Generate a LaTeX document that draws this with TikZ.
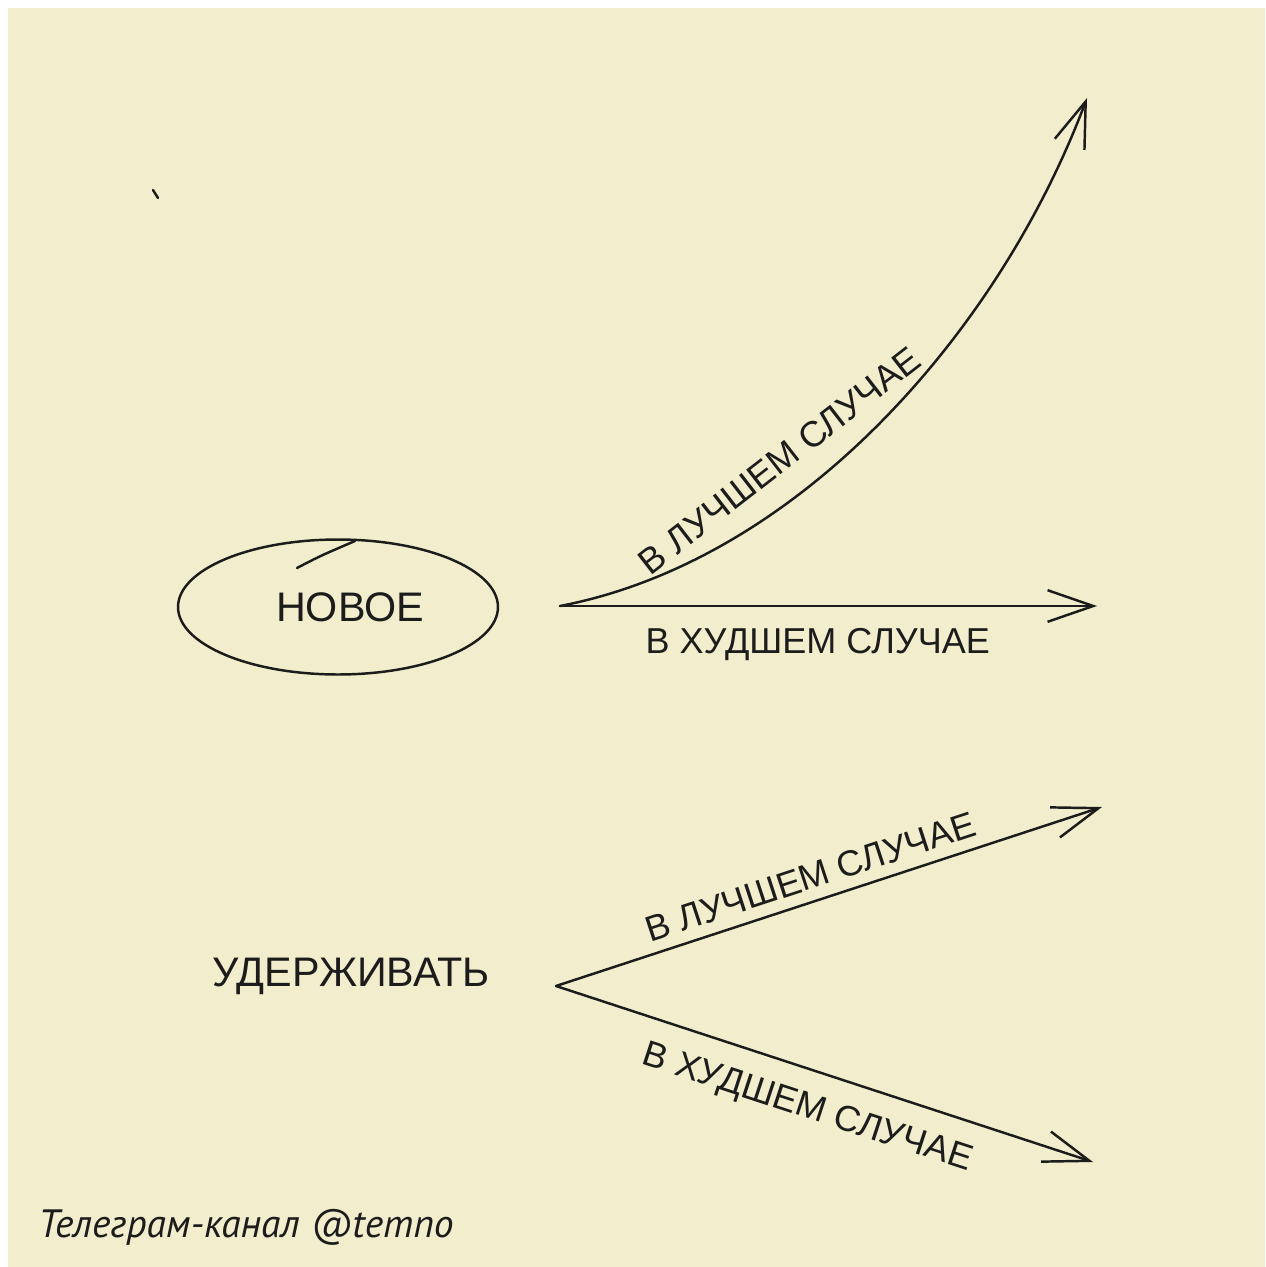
\documentclass[tikz,border=0pt]{standalone}
\usepackage{fontspec}
\usepackage{tikz}
\usepackage{xcolor}
\usetikzlibrary{arrows.meta,positioning,shapes.geometric}
\newfontfamily\handfont{Liberation Sans}
\newfontfamily\footfont{PT Sans}
\definecolor{paper}{HTML}{F2EDCC}
\definecolor{ink}{HTML}{1C1C1C}

\begin{document}
\begin{tikzpicture}[x=0.02cm,y=-0.02cm,
    ink/.style={draw=ink,line width=1.4pt,line cap=round,line join=round},
    barbline/.style={ink,-{Straight Barb[length=26pt,width=18pt,line width=1.4pt]}},
    hand/.style={text=ink,inner sep=2pt,font=\handfont\fontsize{20.5}{24}\selectfont},
    word/.style={text=ink,inner sep=2pt,font=\handfont\fontsize{23.5}{27}\selectfont}]
    \useasboundingbox (0,0) rectangle (1265,1267);
    \fill[white] (0,0) rectangle (1265,1267);
    \fill[paper] (8,8) rectangle (1265,1267);
    \draw[ink] (153,190) -- (158,198);
    \node[ink,ellipse,minimum width=6.4cm,minimum height=2.7cm] (oval) at (338,607) {};
    \draw[ink] (297,568) .. controls (320,556) .. (355,541);
    \node[word] (novoe) at (350,607) {НОВОЕ};
    \node[word] (keep) at (351,976) {УДЕРЖИВАТЬ};
    \coordinate (forkA) at (560,606);
    \coordinate (forkB) at (556,986);
    \coordinate (bestA) at (1087,98);
    \coordinate (worstA) at (1097,606);
    \coordinate (bestB) at (1102,807);
    \coordinate (worstB) at (1093,1162);
    \draw[barbline] (forkA) .. controls (800,560) and (1000,330) .. (bestA)
        node[hand,pos=0.365,sloped,above=12pt] (bestAtxt) {В ЛУЧШЕМ СЛУЧАЕ};
    \draw[barbline] (forkA) -- (worstA)
        node[hand,pos=0.48,below=10pt] (worstAtxt) {В ХУДШЕМ СЛУЧАЕ};
    \draw[barbline] (forkB) -- (bestB)
        node[hand,pos=0.48,sloped,above=4pt] (bestBtxt) {В ЛУЧШЕМ СЛУЧАЕ};
    \draw[barbline] (forkB) -- (worstB)
        node[hand,pos=0.49,sloped,below=10pt] (worstBtxt) {В ХУДШЕМ СЛУЧАЕ};
    \node[anchor=base west,inner sep=0pt,text=ink,font=\footfont\itshape\fontsize{22.5}{26}\selectfont] (channel) at (38,1237) {Телеграм-канал @temno};
\end{tikzpicture}
\end{document}
